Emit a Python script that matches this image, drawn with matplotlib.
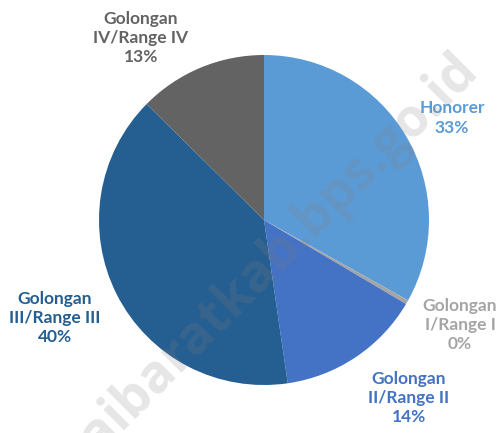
import numpy as np
import matplotlib.pyplot as plt

# share of employees by rank (percent)
categories = ["Honorer", "Golongan\nI/Range I", "Golongan\nII/Range II",
              "Golongan\nIII/Range III", "Golongan\nIV/Range IV"]
shares = [33.1, 0.4, 14.2, 39.7, 12.6]
colors = ["#5B9BD5", "#A5A5A5", "#4472C4", "#255E91", "#636363"]

# label anchors in pixels (x from left, y from top)
label_pos = [(452, 118), (460, 325), (409, 398), (55, 318), (141, 38)]

W, H = 498, 433
fig = plt.figure(figsize=(W / 100, H / 100), dpi=100)
ax = fig.add_axes([0, 0, 1, 1])

ax.pie(shares, colors=colors, startangle=90, counterclock=False,
       radius=165, center=(264, H - 220), frame=True,
       wedgeprops=dict(linewidth=0))
ax.set_xlim(0, W)
ax.set_ylim(0, H)
ax.axis("off")

total = sum(shares)
for name, val, col, (x, y) in zip(categories, shares, colors, label_pos):
    ax.text(x, H - y, f"{name}\n{round(val / total * 100):.0f}%", color=col,
            ha="center", va="center", fontsize=12.5, fontweight="bold",
            family="Lato", linespacing=1.25)

# watermark
ax.text(270, H - 262, "saibaratkab.bps.go.id", rotation=45, ha="center",
        va="center", fontsize=38, fontweight="bold", family="Open Sans",
        color="#808080", alpha=0.2, rotation_mode="anchor")

fig.savefig("out.png", dpi=100)
